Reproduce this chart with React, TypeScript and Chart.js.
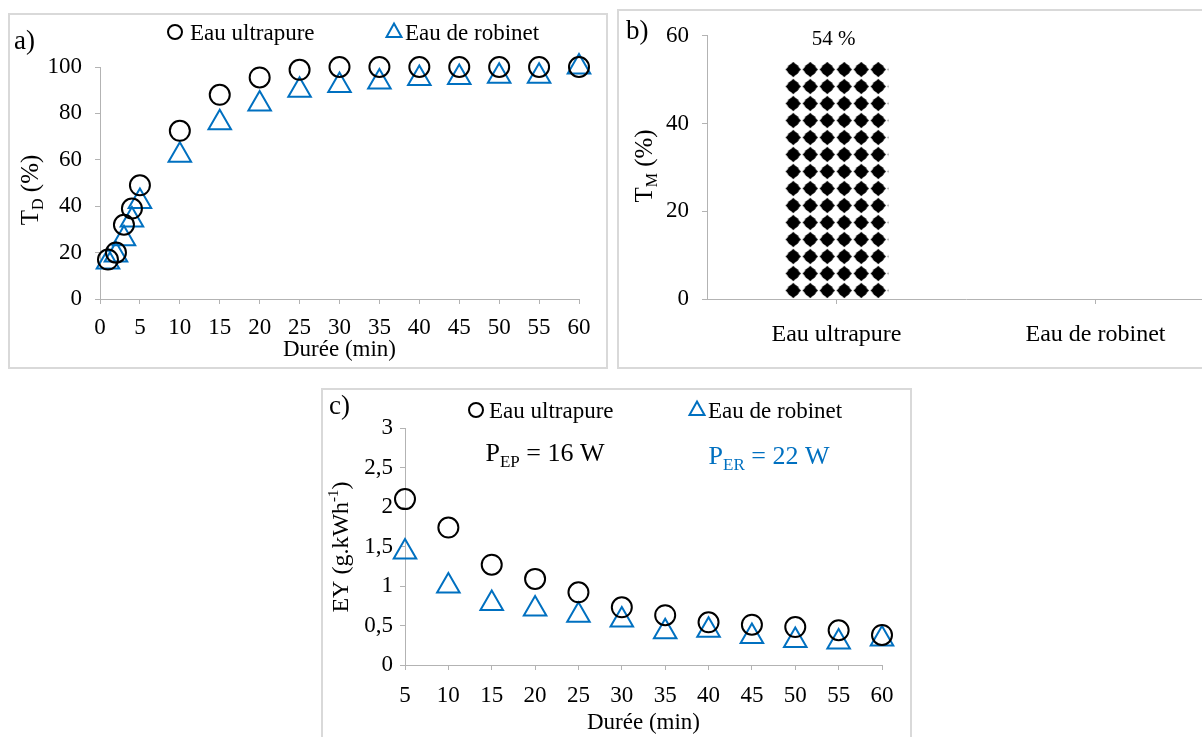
import React, { useEffect, useRef } from 'react';
import { Chart, registerables } from 'chart.js';

Chart.register(...registerables);

const FONT = '"Liberation Serif", "Times New Roman", serif';
const BLUE = '#0070C0';
const AXIS_COLOR = '#b3b3b3';
const TEXT = '#000000';

// ---------- a) Taux de dégradation ----------
const durationA = [1, 2, 3, 4, 5, 10, 15, 20, 25, 30, 35, 40, 45, 50, 55, 60];
const tdUltrapure = [17, 20, 32, 39, 49, 72.5, 88, 95.5, 98.8, 100, 100, 100, 100, 100, 100, 100];
const tdRobinet = [16, 19, 26, 34, 42, 62, 76, 84, 90, 92, 93.5, 95, 95.5, 96, 96, 100];
const ticksA = { min: 0, max: 60, step: 5 };
const ticksAy = { min: 0, max: 100, step: 20 };

// ---------- b) Taux de minéralisation ----------
const waterTypes = ['Eau ultrapure', 'Eau de robinet'];
const tmValues = [54, 0];
const tmLabels = ['54 %', ''];
const ticksBy = { min: 0, max: 60, step: 20 };

// ---------- c) Rendement énergétique ----------
const durationC = [5, 10, 15, 20, 25, 30, 35, 40, 45, 50, 55, 60];
const eyUltrapure = [2.1, 1.74, 1.27, 1.09, 0.92, 0.73, 0.63, 0.54, 0.51, 0.48, 0.44, 0.38];
const eyRobinet = [1.43, 1.0, 0.78, 0.71, 0.63, 0.57, 0.42, 0.44, 0.36, 0.31, 0.29, 0.33];
const ticksC = { min: 5, max: 60, step: 5 };
const ticksCy = { min: 0, max: 3, step: 0.5 };

const seriesNames = ['Eau ultrapure', 'Eau de robinet'];

type Seg = { t: string; size: number; dy?: number };

function drawRich(
  ctx: CanvasRenderingContext2D,
  segs: Seg[],
  x: number,
  y: number,
  color: string,
  rotate = 0,
  align: 'center' | 'left' = 'center'
) {
  ctx.save();
  ctx.translate(x, y);
  if (rotate) ctx.rotate(rotate);
  ctx.fillStyle = color;
  ctx.textBaseline = 'alphabetic';
  ctx.textAlign = 'left';
  let total = 0;
  const widths = segs.map((s) => {
    ctx.font = `${s.size}px ${FONT}`;
    const w = ctx.measureText(s.t).width;
    total += w;
    return w;
  });
  let cx = align === 'center' ? -total / 2 : 0;
  const main = Math.max(...segs.map((s) => s.size));
  const base = main * 0.33;
  segs.forEach((s, i) => {
    ctx.font = `${s.size}px ${FONT}`;
    ctx.fillText(s.t, cx, base + (s.dy || 0));
    cx += widths[i];
  });
  ctx.restore();
}

function circleMark(ctx: CanvasRenderingContext2D, x: number, y: number) {
  ctx.save();
  ctx.strokeStyle = '#000';
  ctx.lineWidth = 2;
  ctx.beginPath();
  ctx.arc(x, y, 7, 0, Math.PI * 2);
  ctx.stroke();
  ctx.restore();
}

function triMark(ctx: CanvasRenderingContext2D, x: number, y: number) {
  ctx.save();
  ctx.strokeStyle = BLUE;
  ctx.lineWidth = 2;
  ctx.beginPath();
  ctx.moveTo(x, y - 7.5);
  ctx.lineTo(x + 7.5, y + 6);
  ctx.lineTo(x - 7.5, y + 6);
  ctx.closePath();
  ctx.stroke();
  ctx.restore();
}

function grid() {
  return { display: true, drawOnChartArea: false, drawTicks: true, tickLength: 5, color: AXIS_COLOR, lineWidth: 1 };
}
function border() {
  return { display: true, color: AXIS_COLOR, width: 1 };
}

function scatterDatasets(xs: number[], ys1: number[], ys2: number[]) {
  return [
    {
      label: seriesNames[0],
      data: xs.map((x, i) => ({ x, y: ys1[i] })),
      pointStyle: 'circle',
      pointRadius: 10,
      pointBorderWidth: 2,
      borderColor: '#000',
      backgroundColor: 'rgba(0,0,0,0)',
      pointBackgroundColor: 'rgba(0,0,0,0)',
      pointBorderColor: '#000',
      showLine: false,
      clip: false,
    },
    {
      label: seriesNames[1],
      data: xs.map((x, i) => ({ x, y: ys2[i] })),
      pointStyle: 'triangle',
      pointRadius: 13,
      pointBorderWidth: 2,
      borderColor: BLUE,
      backgroundColor: 'rgba(0,0,0,0)',
      pointBackgroundColor: 'rgba(0,0,0,0)',
      pointBorderColor: BLUE,
      showLine: false,
      clip: false,
    },
  ];
}

function makeTile(): HTMLCanvasElement {
  const t = document.createElement('canvas');
  t.width = 17;
  t.height = 17;
  const c = t.getContext('2d')!;
  c.fillStyle = '#ffffff';
  c.fillRect(0, 0, 17, 17);
  c.fillStyle = '#000000';
  c.beginPath();
  c.arc(8.5, 8.5, 6.0, 0, Math.PI * 2);
  c.fill();
  c.beginPath();
  c.moveTo(8.5, 0.8);
  c.lineTo(16.2, 8.5);
  c.lineTo(8.5, 16.2);
  c.lineTo(0.8, 8.5);
  c.closePath();
  c.fill();
  return t;
}

function ChartA() {
  const ref = useRef<HTMLCanvasElement>(null);
  useEffect(() => {
    const decor = {
      id: 'decorA',
      afterDraw(chart: any) {
        const ctx = chart.ctx as CanvasRenderingContext2D;
        drawRich(ctx, [{ t: 'a)', size: 27 }], 6, 27, TEXT, 0, 'left');
        circleMark(ctx, 167, 19);
        drawRich(ctx, [{ t: seriesNames[0], size: 23 }], 182, 19, TEXT, 0, 'left');
        triMark(ctx, 386, 18);
        drawRich(ctx, [{ t: seriesNames[1], size: 23 }], 397, 19, TEXT, 0, 'left');
        drawRich(
          ctx,
          [
            { t: 'T', size: 25 },
            { t: 'D', size: 16, dy: 5 },
            { t: ' (%)', size: 25 },
          ],
          22,
          177,
          TEXT,
          -Math.PI / 2
        );
      },
    };
    const chart = new Chart(ref.current!, {
      type: 'scatter',
      data: { datasets: scatterDatasets(durationA, tdUltrapure, tdRobinet) as any },
      options: {
        responsive: false,
        animation: false,
        devicePixelRatio: 1,
        layout: { padding: { left: 0, top: 54, right: 29, bottom: 0 } },
        plugins: { legend: { display: false }, tooltip: { enabled: false } },
        scales: {
          x: {
            type: 'linear',
            min: ticksA.min,
            max: ticksA.max,
            grid: grid(),
            border: border(),
            ticks: { stepSize: ticksA.step, color: TEXT, font: { family: FONT, size: 23 }, padding: 10 },
            title: { display: true, text: 'Durée (min)', color: TEXT, font: { family: FONT, size: 23 }, padding: { top: 0, bottom: 5 } },
            afterFit(s: any) {
              s.height = 70;
            },
          },
          y: {
            min: ticksAy.min,
            max: ticksAy.max,
            grid: grid(),
            border: border(),
            ticks: { stepSize: ticksAy.step, color: TEXT, font: { family: FONT, size: 23 }, padding: 13 },
            afterFit(s: any) {
              s.width = 92;
            },
          },
        },
      } as any,
      plugins: [decor],
    });
    return () => chart.destroy();
  }, []);
  return <canvas ref={ref} width={600} height={356} />;
}

function ChartB() {
  const ref = useRef<HTMLCanvasElement>(null);
  useEffect(() => {
    const tile = makeTile();
    const decor = {
      id: 'decorB',
      afterDatasetsDraw(chart: any) {
        const ctx = chart.ctx as CanvasRenderingContext2D;
        const meta = chart.getDatasetMeta(0);
        meta.data.forEach((el: any, i: number) => {
          if (tmLabels[i]) drawRich(ctx, [{ t: tmLabels[i], size: 21 }], el.x - 3, el.y - 24, TEXT);
        });
      },
      afterDraw(chart: any) {
        const ctx = chart.ctx as CanvasRenderingContext2D;
        drawRich(ctx, [{ t: 'b)', size: 27 }], 9, 21, TEXT, 0, 'left');
        drawRich(
          ctx,
          [
            { t: 'T', size: 25 },
            { t: 'M', size: 16, dy: 5 },
            { t: ' (%)', size: 25 },
          ],
          27,
          157,
          TEXT,
          -Math.PI / 2
        );
      },
    };
    const chart = new Chart(ref.current!, {
      type: 'bar',
      data: {
        labels: waterTypes,
        datasets: [
          {
            data: tmValues,
            borderWidth: 0,
            barPercentage: 0.4,
            categoryPercentage: 1,
            backgroundColor: (c: any) => {
              const ch = c.chart;
              const xs = ch.scales && ch.scales.x;
              const ys = ch.scales && ch.scales.y;
              if (!xs || !ys || c.dataIndex === undefined) return '#000';
              const catW = xs.width / waterTypes.length;
              const left = xs.getPixelForValue(c.dataIndex) - (catW * 0.4) / 2;
              const bottom = ys.getPixelForValue(0);
              const pat = ch.ctx.createPattern(tile, 'repeat') as CanvasPattern;
              pat.setTransform(new DOMMatrix([1, 0, 0, 1, left, bottom]));
              return pat;
            },
          },
        ],
      },
      options: {
        responsive: false,
        animation: false,
        devicePixelRatio: 1,
        layout: { padding: { left: 0, top: 26, right: 32, bottom: 0 } },
        plugins: { legend: { display: false }, tooltip: { enabled: false } },
        scales: {
          x: {
            grid: { ...grid(), offset: false },
            border: border(),
            ticks: { color: TEXT, font: { family: FONT, size: 24 }, padding: 16 },
            afterFit(s: any) {
              s.height = 70;
            },
          },
          y: {
            min: ticksBy.min,
            max: ticksBy.max,
            grid: grid(),
            border: border(),
            ticks: { stepSize: ticksBy.step, color: TEXT, font: { family: FONT, size: 23 }, padding: 13 },
            afterFit(s: any) {
              s.width = 90;
            },
          },
        },
      } as any,
      plugins: [decor],
    });
    return () => chart.destroy();
  }, []);
  return <canvas ref={ref} width={640} height={360} />;
}

function ChartC() {
  const ref = useRef<HTMLCanvasElement>(null);
  useEffect(() => {
    const decor = {
      id: 'decorC',
      afterDraw(chart: any) {
        const ctx = chart.ctx as CanvasRenderingContext2D;
        drawRich(ctx, [{ t: 'c)', size: 27 }], 8, 17, TEXT, 0, 'left');
        circleMark(ctx, 155, 22);
        drawRich(ctx, [{ t: seriesNames[0], size: 23 }], 168, 22, TEXT, 0, 'left');
        triMark(ctx, 376, 21);
        drawRich(ctx, [{ t: seriesNames[1], size: 23 }], 387, 22, TEXT, 0, 'left');
        drawRich(
          ctx,
          [
            { t: 'P', size: 26 },
            { t: 'EP', size: 17, dy: 6 },
            { t: ' = 16 W', size: 26 },
          ],
          224,
          64,
          TEXT
        );
        drawRich(
          ctx,
          [
            { t: 'P', size: 26 },
            { t: 'ER', size: 17, dy: 6 },
            { t: ' = 22 W', size: 26 },
          ],
          448,
          67,
          BLUE
        );
        drawRich(
          ctx,
          [
            { t: 'EY (g.kWh', size: 24 },
            { t: '-1', size: 15, dy: -10 },
            { t: ')', size: 24 },
          ],
          19,
          159,
          TEXT,
          -Math.PI / 2
        );
      },
    };
    const chart = new Chart(ref.current!, {
      type: 'scatter',
      data: { datasets: scatterDatasets(durationC, eyUltrapure, eyRobinet) as any },
      options: {
        responsive: false,
        animation: false,
        devicePixelRatio: 1,
        layout: { padding: { left: 0, top: 40, right: 30, bottom: 0 } },
        plugins: { legend: { display: false }, tooltip: { enabled: false } },
        scales: {
          x: {
            type: 'linear',
            min: ticksC.min,
            max: ticksC.max,
            grid: grid(),
            border: border(),
            ticks: { stepSize: ticksC.step, color: TEXT, font: { family: FONT, size: 23 }, padding: 12 },
            title: { display: true, text: 'Durée (min)', color: TEXT, font: { family: FONT, size: 23 }, padding: { top: 0, bottom: 0 } },
            afterFit(s: any) {
              s.height = 72;
            },
          },
          y: {
            min: ticksCy.min,
            max: ticksCy.max,
            grid: grid(),
            border: border(),
            ticks: {
              stepSize: ticksCy.step,
              color: TEXT,
              font: { family: FONT, size: 23 },
              padding: 7,
              callback: (v: any) => String(v).replace('.', ','),
            },
            afterFit(s: any) {
              s.width = 84;
            },
          },
        },
      } as any,
      plugins: [decor],
    });
    return () => chart.destroy();
  }, []);
  return <canvas ref={ref} width={591} height={349} />;
}

const frame = (left: number, top: number, width: number, height: number): React.CSSProperties => ({
  position: 'absolute',
  left,
  top,
  width,
  height,
  boxSizing: 'border-box',
  border: '2px solid #d9d9d9',
});

export default function App() {
  return (
    <div
      style={{
        position: 'fixed',
        left: 0,
        top: 0,
        width: 1202,
        height: 737,
        background: '#ffffff',
        overflow: 'hidden',
      }}
    >
      <div style={frame(8, 13, 600, 356)} />
      <div style={frame(617, 9, 600, 360)} />
      <div style={frame(321, 388, 591, 360)} />
      <div style={{ position: 'absolute', left: 8, top: 13, width: 600, height: 356 }}>
        <ChartA />
      </div>
      <div style={{ position: 'absolute', left: 617, top: 9, width: 585, height: 360, overflow: 'hidden' }}>
        <ChartB />
      </div>
      <div style={{ position: 'absolute', left: 321, top: 388, width: 591, height: 349, overflow: 'hidden' }}>
        <ChartC />
      </div>
    </div>
  );
}
